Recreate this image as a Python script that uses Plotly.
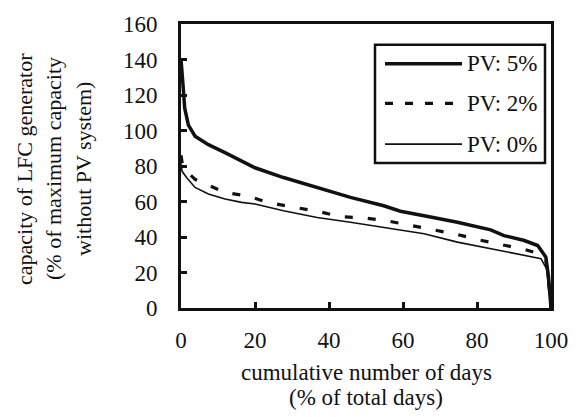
import plotly.graph_objects as go

# Load-duration style curves of LFC generator capacity
days_pv5 = [0, 0.2, 0.6, 1.0, 2.0, 3.8, 7.4, 11.9, 16.4, 20, 27.7, 36.8, 45.8,
            54.8, 59.3, 65.7, 74.7, 83.7, 87.3, 92.8, 96.4, 98.6, 99.3, 99.7, 100]
cap_pv5 = [140, 132, 124, 112.6, 103, 96.8, 92, 87.5, 82.8, 79, 73.5, 67.9, 62.3,
           57.6, 54.5, 52, 48.3, 44, 40.8, 38, 35.2, 28.7, 18, 8, 0]

days_pv2 = [0, 0.3, 1.5, 3.8, 6.8, 11.9, 17.8, 23.5, 29.8, 36.8, 43.1, 49.9,
            56.2, 62.5, 68.3, 74.7, 80.5, 86.8, 92.8, 96.9, 98.6, 99.5, 100]
cap_pv2 = [86, 82, 77, 72.5, 69.8, 65, 63.2, 59.5, 57, 54.5, 51.5, 50.7,
           48.9, 46.4, 44, 41.4, 38.4, 35.8, 33, 30.6, 27, 12, 0]

days_pv0 = [0, 0.3, 1.5, 3.8, 7.4, 11.9, 16.4, 20, 27.7, 36.8, 45.8, 54.8,
            65.7, 74.7, 83.7, 92.8, 97.3, 98.8, 99.5, 100]
cap_pv0 = [81, 77, 73.5, 67.9, 64.2, 61.4, 59.5, 58.6, 54.8, 51, 48.3, 45.5,
           41.8, 37.1, 33.4, 29.7, 27.8, 22, 10, 0]

x_ticks = [0, 20, 40, 60, 80, 100]
y_ticks = [0, 20, 40, 60, 80, 100, 120, 140, 160]

legend_labels = ["PV: 5%", "PV: 2%", "PV: 0%"]
x_title_lines = ["cumulative number of days", "(% of total days)"]
y_title_lines = ["capacity of LFC generator", "(% of maximum capacity", "without PV system)"]

FONT = "Times New Roman, Liberation Serif, Times, serif"
INK = "#111111"

fig = go.Figure()
fig.add_trace(go.Scatter(x=days_pv5, y=cap_pv5, mode="lines", name=legend_labels[0],
                         line=dict(color=INK, width=3.5)))
fig.add_trace(go.Scatter(x=days_pv2, y=cap_pv2, mode="lines", name=legend_labels[1],
                         line=dict(color=INK, width=3.2, dash="8px,15px")))
fig.add_trace(go.Scatter(x=days_pv0, y=cap_pv0, mode="lines", name=legend_labels[2],
                         line=dict(color=INK, width=1.6)))

axis_common = dict(showgrid=False, zeroline=False, showline=True, linewidth=3,
                   linecolor=INK, mirror=True, ticks="inside", ticklen=6,
                   tickwidth=3, tickcolor=INK,
                   tickfont=dict(family=FONT, size=23, color=INK))

fig.update_xaxes(range=[0, 100], tickvals=x_ticks, ticklabelstandoff=9, **axis_common)
fig.update_yaxes(range=[0, 160], tickvals=y_ticks, ticklabelstandoff=16, **axis_common)

# Boxed legend drawn in paper coordinates
def px_x(px):
    return (px - 181) / 370.0

def px_y(py):
    return (308 - py) / 286.0

shapes = [dict(type="rect", xref="paper", yref="paper",
               x0=px_x(375), x1=px_x(545), y0=px_y(162), y1=px_y(43),
               line=dict(color=INK, width=2.5), fillcolor="white")]
legend_rows = [62, 102, 143]
legend_styles = [dict(width=3.5, dash="solid"),
                 dict(width=3.2, dash="8px,12px"),
                 dict(width=1.6, dash="solid")]
annotations = []
for row_y, style, label in zip(legend_rows, legend_styles, legend_labels):
    shapes.append(dict(type="line", xref="paper", yref="paper",
                       x0=px_x(385), x1=px_x(462), y0=px_y(row_y), y1=px_y(row_y),
                       line=dict(color=INK, **style)))
    annotations.append(dict(xref="paper", yref="paper", x=px_x(465), y=px_y(row_y),
                            xanchor="left", yanchor="middle", showarrow=False,
                            text=label, font=dict(family=FONT, size=23, color=INK)))

# Axis titles, one annotation per line for tight line spacing
for line_y, txt in zip([373, 398], x_title_lines):
    annotations.append(dict(xref="paper", yref="paper", x=px_x(366), y=px_y(line_y),
                            xanchor="center", yanchor="middle", showarrow=False,
                            text=txt, font=dict(family=FONT, size=23, color=INK)))
for line_x, txt in zip([25, 54, 84], y_title_lines):
    annotations.append(dict(xref="paper", yref="paper", x=px_x(line_x), y=px_y(168),
                            xanchor="center", yanchor="middle", showarrow=False,
                            textangle=-90, text=txt,
                            font=dict(family=FONT, size=22, color=INK)))

fig.update_layout(width=584, height=417, showlegend=False,
                  margin=dict(l=181, r=33, t=22, b=109),
                  paper_bgcolor="white", plot_bgcolor="white",
                  shapes=shapes, annotations=annotations)

fig.write_html("out.html")
